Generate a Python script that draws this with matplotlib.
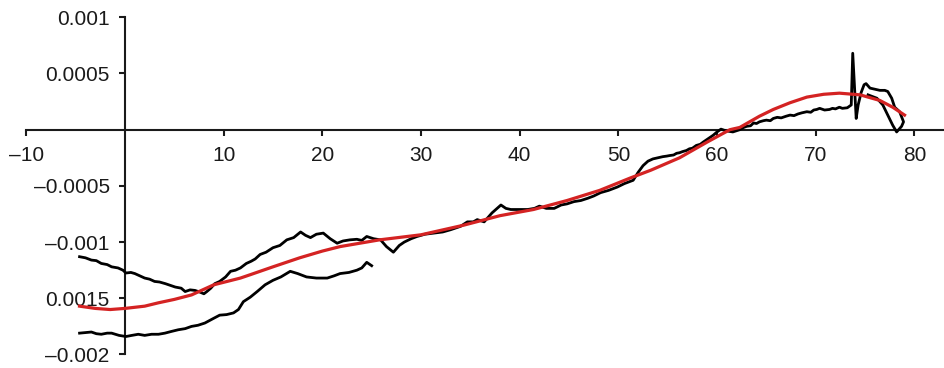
import numpy as np
import matplotlib.pyplot as plt

#######################################
# Data (y values in units of 1e-3)
#######################################
# upper black trace, runs the whole range and loops at the right end
xa = [-4.6, -4.0, -3.4, -2.9, -2.4, -1.8, -1.35, -0.7, -0.2, 0.1, 0.6, 1.0, 1.5, 2.0, 2.5,
      3.0, 3.5, 4.1, 4.6, 5.1, 5.7, 6.1, 6.6, 7.1, 7.6, 8.0, 8.3, 8.7, 9.1, 9.6,
      10.2, 10.7, 11.2, 11.7, 12.3, 12.8, 13.2, 13.7, 14.3, 15.0, 15.7, 16.4, 17.1, 17.8, 18.3, 18.8,
      19.4, 20.1, 20.8, 21.5, 22.1, 22.8, 23.5, 24.0, 24.5, 25.2, 25.9, 26.5, 27.2, 27.8, 28.3, 29.0,
      29.6, 30.4, 31.3, 32.2, 33.0, 34.0, 34.7, 35.3, 35.7, 36.4, 37.2, 38.1, 38.6, 39.1, 40.0,
      40.8, 41.5, 42.0, 42.7, 43.5, 44.2, 44.8, 45.5, 46.2, 46.9, 47.5, 48.2, 49.0, 49.9, 50.6,
      51.5, 52.0, 52.5, 53.0, 53.5, 54.0, 54.5, 54.9, 55.2, 55.6, 55.9, 56.2, 56.5, 56.9, 57.2,
      57.5, 57.9, 58.3, 58.6, 59.1, 59.6, 60.0, 60.4, 60.9, 61.6, 62.3, 62.7, 63.0, 63.4, 63.7,
      64.0, 64.3, 64.7, 65.0, 65.4, 65.7, 66.1, 66.5, 67.0, 67.4, 67.8, 68.2, 68.6, 69.1, 69.5,
      69.8, 70.1, 70.4, 70.9, 71.4, 71.7, 72.0, 72.4, 72.7, 73.2, 73.6, 73.75, 74.1, 74.3, 74.6,
      74.9, 75.1, 75.5, 76.0, 76.5, 77.0, 77.3, 77.7, 78.0, 78.5, 78.9, 78.7, 78.2, 77.8, 77.3,
      76.8, 76.2, 75.3]
ya = [-1.13, -1.14, -1.16, -1.165, -1.19, -1.20, -1.22, -1.23, -1.25, -1.275, -1.27, -1.28, -1.30, -1.32, -1.33,
      -1.35, -1.355, -1.37, -1.385, -1.40, -1.41, -1.44, -1.425, -1.43, -1.445, -1.46, -1.44, -1.41, -1.37, -1.35,
      -1.31, -1.26, -1.25, -1.23, -1.19, -1.17, -1.15, -1.11, -1.09, -1.05, -1.03, -0.98, -0.96, -0.91, -0.94, -0.96,
      -0.93, -0.92, -0.97, -1.01, -0.99, -0.98, -0.975, -0.985, -0.95, -0.97, -0.98, -1.04, -1.09, -1.03, -1.00, -0.97,
      -0.95, -0.93, -0.92, -0.91, -0.89, -0.86, -0.82, -0.82, -0.80, -0.82, -0.74, -0.67, -0.70, -0.71, -0.71,
      -0.71, -0.70, -0.68, -0.70, -0.70, -0.67, -0.66, -0.64, -0.63, -0.61, -0.59, -0.56, -0.54, -0.51, -0.48,
      -0.45, -0.38, -0.32, -0.28, -0.26, -0.25, -0.24, -0.235, -0.23, -0.225, -0.21, -0.205, -0.195, -0.185, -0.17,
      -0.165, -0.14, -0.13, -0.11, -0.08, -0.05, -0.02, 0.005, -0.01, -0.02, 0.0, 0.02, 0.03, 0.035, 0.06,
      0.055, 0.07, 0.08, 0.085, 0.08, 0.10, 0.11, 0.105, 0.12, 0.13, 0.125, 0.14, 0.15, 0.16, 0.155,
      0.175, 0.18, 0.19, 0.175, 0.18, 0.19, 0.185, 0.20, 0.19, 0.195, 0.22, 0.68, 0.10, 0.22, 0.33,
      0.40, 0.41, 0.37, 0.36, 0.35, 0.35, 0.34, 0.28, 0.20, 0.16, 0.07, 0.03, -0.02, 0.04, 0.13,
      0.22, 0.28, 0.31]

# lower black trace, stops near x = 25
xb = [-4.6, -4.0, -3.4, -2.9, -2.4, -1.8, -1.35, -0.6, 0.1, 0.7, 1.35, 2.0, 2.7, 3.4, 4.05,
      4.7, 5.4, 6.1, 6.75, 7.4, 8.1, 8.95, 9.6, 10.3, 11.0, 11.5, 12.0, 12.7, 13.4, 14.2,
      15.0, 15.8, 16.75, 17.5, 18.4, 19.4, 20.5, 21.2, 21.8, 22.7, 23.5, 24.0, 24.5, 25.0]
yb = [-1.81, -1.805, -1.80, -1.815, -1.82, -1.81, -1.81, -1.83, -1.84, -1.83, -1.82, -1.83, -1.82, -1.82, -1.81,
      -1.795, -1.78, -1.77, -1.75, -1.74, -1.72, -1.68, -1.65, -1.645, -1.63, -1.60, -1.53, -1.49, -1.44, -1.38,
      -1.34, -1.31, -1.26, -1.28, -1.31, -1.32, -1.32, -1.30, -1.28, -1.27, -1.25, -1.23, -1.18, -1.21]

# red fitted curve
xr = [-4.6, -3.0, -1.5, 0.0, 2.0, 3.4, 5.0, 6.75, 8.0, 9.0, 11.7, 12.7, 15.0, 17.7, 20.0,
      21.8, 25.8, 30.0, 34.3, 38.0, 41.4, 44.8, 48.1, 51.2, 53.3, 56.2, 59.0, 61.3, 62.3, 64.3,
      65.7, 67.4, 69.1, 70.8, 72.4, 74.5, 76.5, 77.8, 79.0]
yr = [-1.57, -1.59, -1.60, -1.59, -1.57, -1.54, -1.51, -1.47, -1.42, -1.38, -1.32, -1.29, -1.22, -1.14, -1.08,
      -1.04, -0.98, -0.935, -0.85, -0.765, -0.71, -0.63, -0.54, -0.43, -0.36, -0.25, -0.11, 0.0, 0.02, 0.12,
      0.18, 0.24, 0.29, 0.315, 0.325, 0.31, 0.26, 0.20, 0.13]

xticks = [-10, 10, 20, 30, 40, 50, 60, 70, 80]
xticklabels = ['\u201310', '10', '20', '30', '40', '50', '60', '70', '80']
yticks = [0.001, 0.0005, -0.0005, -0.001, -0.0015, -0.002]
yticklabels = ['0.001', '0.0005', '\u20130.0005', '\u20130.001', '0.0015', '\u20130.002']

#######################################
# Figure
#######################################
plt.rcParams['font.family'] = ['Liberation Sans', 'DejaVu Sans']
fig = plt.figure(figsize=(9.45, 3.68), dpi=100)
ax = fig.add_axes([0.0278, 0.0367, 0.9722, 0.9163])

scale = 1e-3
ax.plot(xa, np.array(ya) * scale, color='black', lw=2.0, zorder=3)
ax.plot(xb, np.array(yb) * scale, color='black', lw=2.0, zorder=3)
ax.plot(xr, np.array(yr) * scale, color='#d42323', lw=2.3, zorder=4)

ax.set_xlim(-10, 83.1)
ax.set_ylim(-0.002, 0.001)

# axes cross at the origin
for s in ['top', 'right']:
    ax.spines[s].set_visible(False)
ax.spines['left'].set_position(('data', 0))
ax.spines['bottom'].set_position(('data', 0))
for s in ['left', 'bottom']:
    ax.spines[s].set_linewidth(1.5)
    ax.spines[s].set_color('#1a1a1a')
    ax.spines[s].set_zorder(2)

ax.set_xticks(xticks)
ax.set_xticklabels(xticklabels)
ax.set_yticks(yticks)
ax.set_yticklabels(yticklabels)
ax.tick_params(axis='both', direction='out', length=4, width=1.5, color='#1a1a1a',
               labelsize=15, labelcolor='#1a1a1a')
ax.tick_params(axis='x', pad=8)
ax.tick_params(axis='y', pad=7)

fig.savefig('out.png', dpi=100)
